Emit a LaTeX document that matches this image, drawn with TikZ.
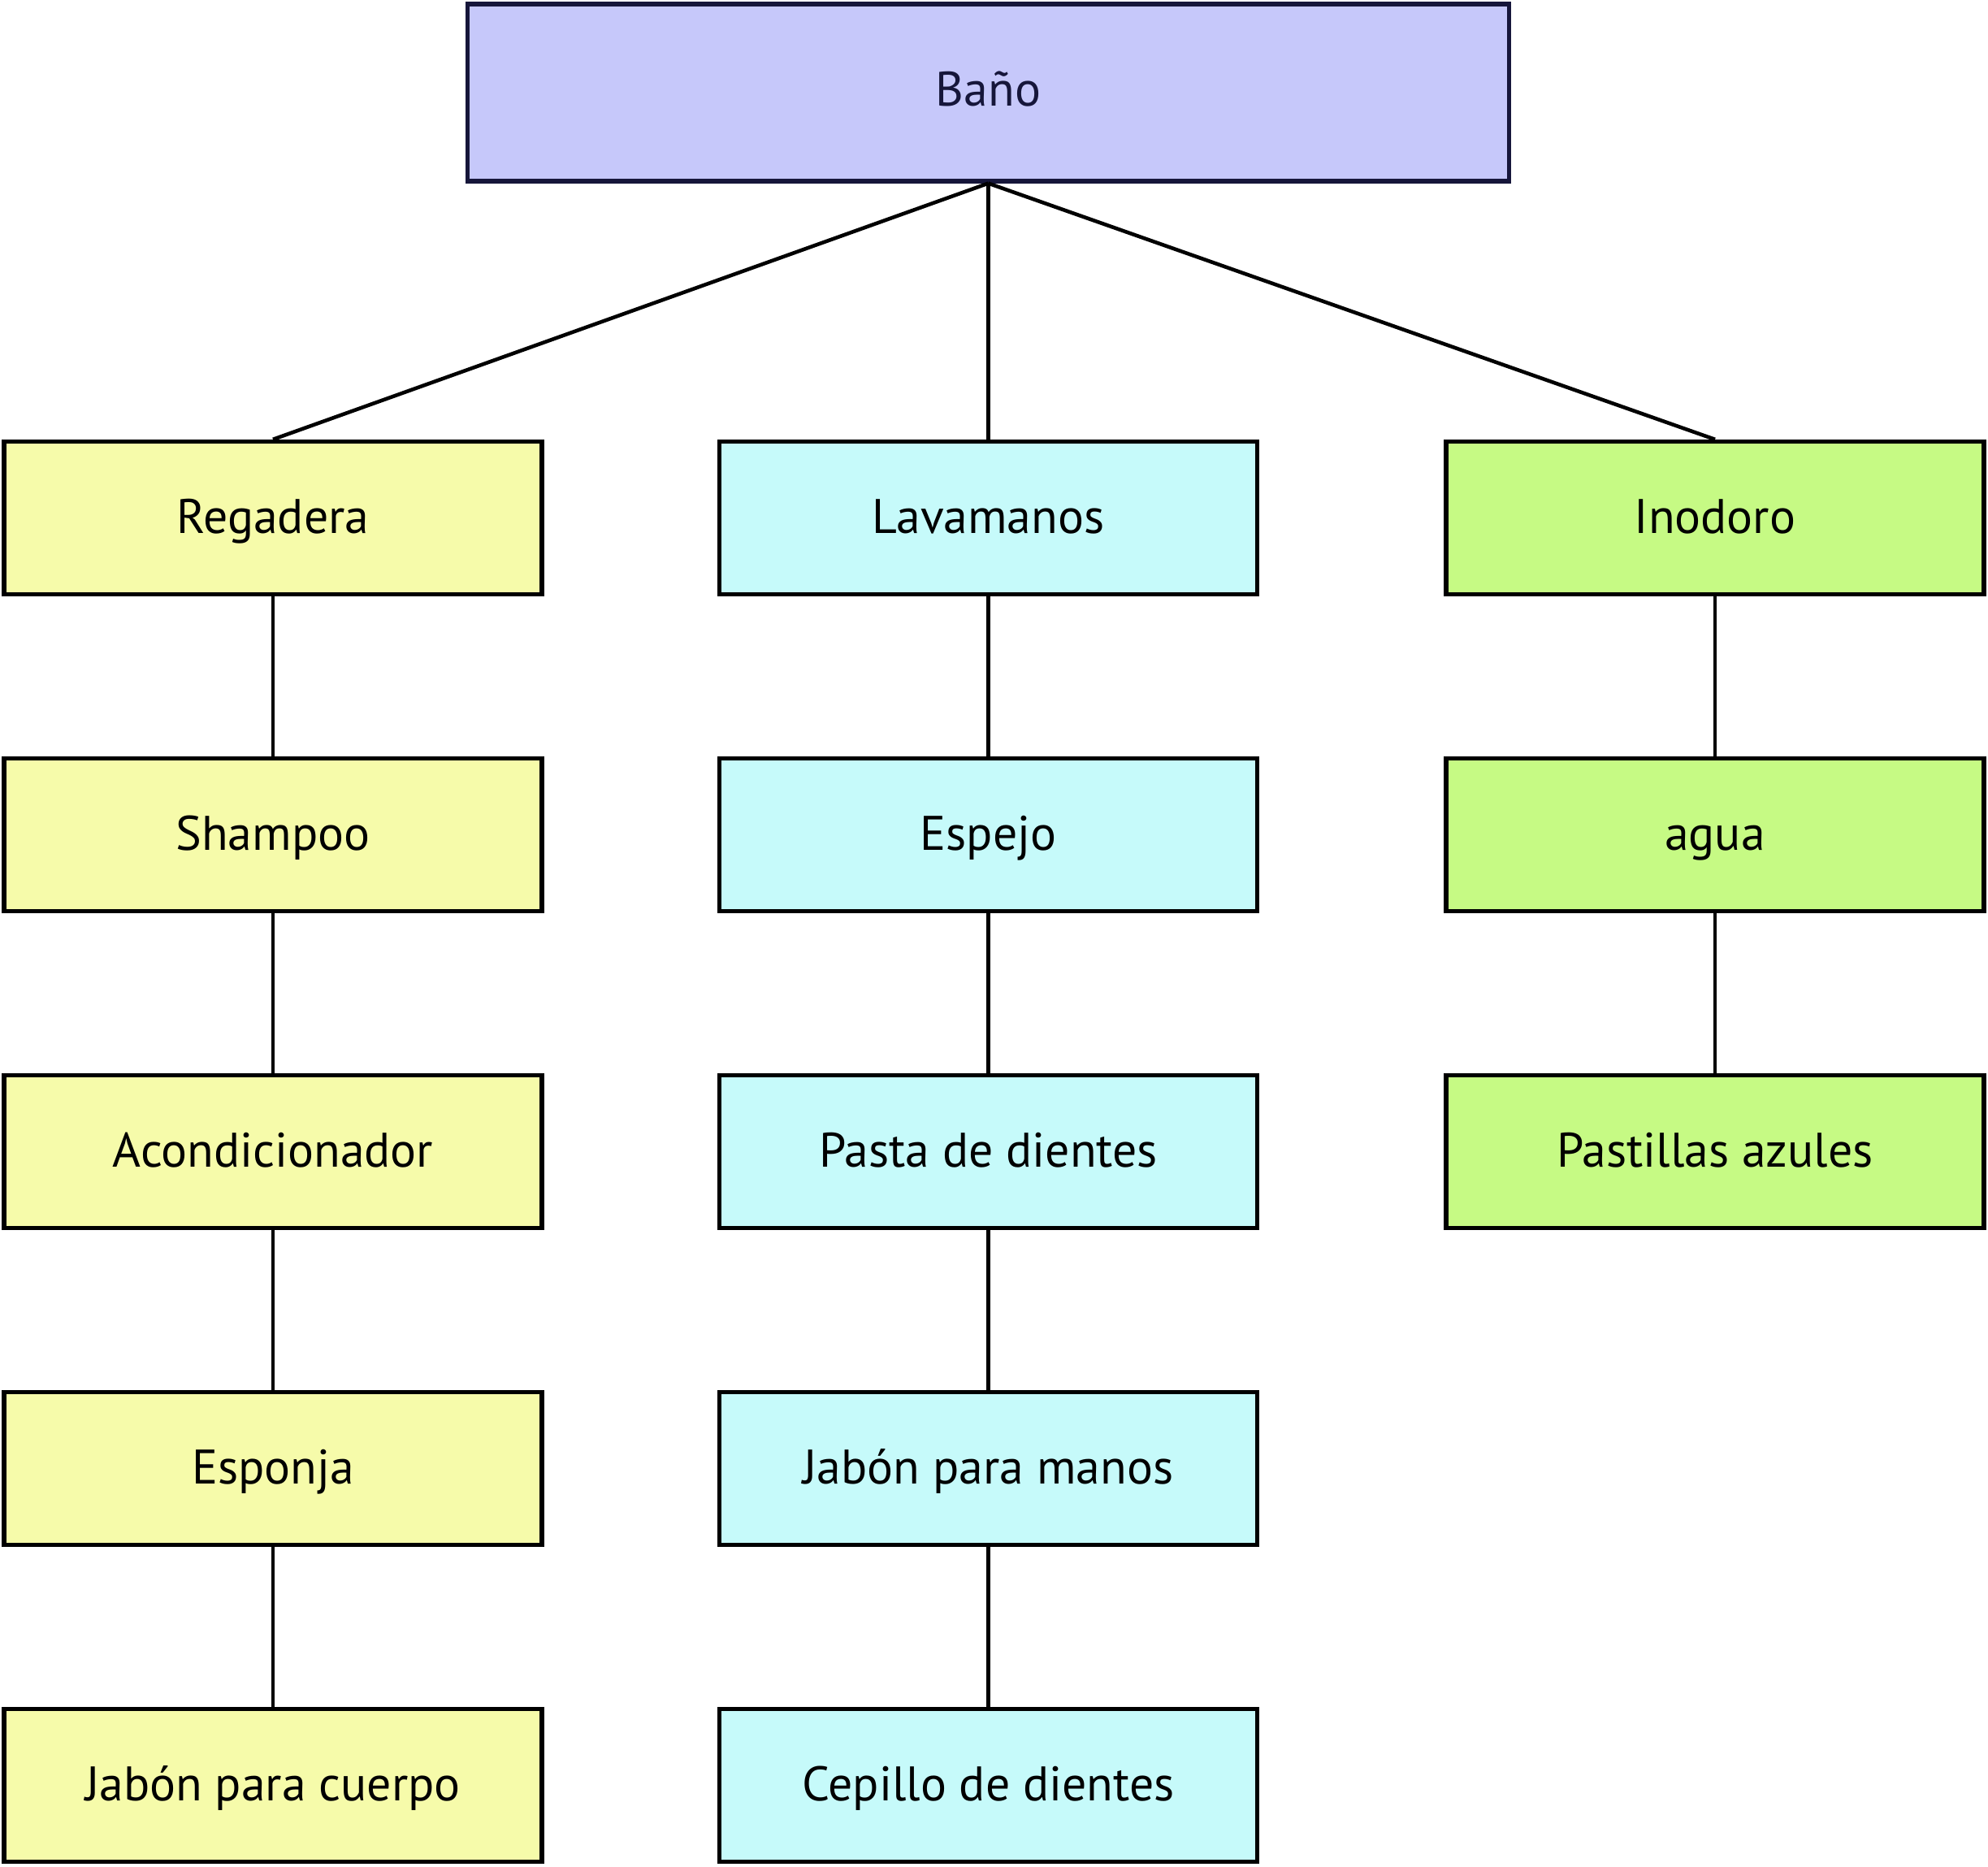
\documentclass[tikz,border=0pt]{standalone}
\usepackage{fontspec}
\setmainfont{PT Sans}
\usetikzlibrary{positioning}

\definecolor{lavanda}{HTML}{C6C8FA}
\definecolor{marino}{HTML}{16163A}
\definecolor{amarillo}{HTML}{F6FBAA}
\definecolor{celeste}{HTML}{C6FAFA}
\definecolor{verde}{HTML}{C6FA84}

\begin{document}
\begin{tikzpicture}[node distance=3.9cm,on grid,line width=1.3pt]
  \tikzstyle{raiz}=[rectangle,line width=1.5pt,draw=marino,fill=lavanda,text=marino,
                    minimum width=12.82cm,minimum height=2.18cm,
                    text height=14pt,text depth=4.5pt,
                    font=\fontsize{17}{20}\selectfont]
  \tikzstyle{caja}=[rectangle,line width=1.5pt,draw=black,
                    minimum width=6.62cm,minimum height=1.88cm,
                    text height=14pt,text depth=3.4pt,
                    font=\fontsize{17}{20}\selectfont]

  \useasboundingbox (0,0) rectangle (24.47,-22.98);

  \node[raiz] (bano) at (12.165,-1.14) {Baño};

  \node[caja,fill=amarillo] (regadera) at (3.36,-6.375) {Regadera};
  \node[caja,fill=celeste] (lavamanos) [right=8.805cm of regadera] {Lavamanos};
  \node[caja,fill=verde] (inodoro) [right=8.945cm of lavamanos] {Inodoro};

  \node[caja,fill=amarillo] (shampoo) [below=of regadera] {Shampoo};
  \node[caja,fill=amarillo] (acond) [below=of shampoo] {Acondicionador};
  \node[caja,fill=amarillo] (esponja) [below=of acond] {Esponja};
  \node[caja,fill=amarillo] (jcuerpo) [below=of esponja] {Jabón para cuerpo};

  \node[caja,fill=celeste] (espejo) [below=of lavamanos] {Espejo};
  \node[caja,fill=celeste] (pasta) [below=of espejo] {Pasta de dientes};
  \node[caja,fill=celeste] (jmanos) [below=of pasta] {Jabón para manos};
  \node[caja,fill=celeste] (cepillo) [below=of jmanos] {Cepillo de dientes};

  \node[caja,fill=verde] (agua) [below=of inodoro] {agua};
  \node[caja,fill=verde] (pastillas) [below=of agua] {Pastillas azules};

  \path (bano.south) edge (regadera.north)
                     edge (lavamanos.north)
                     edge (inodoro.north);

  \path (regadera) edge (shampoo);
  \path (shampoo) edge (acond);
  \path (acond) edge (esponja);
  \path (esponja) edge (jcuerpo);

  \path (lavamanos) edge (espejo);
  \path (espejo) edge (pasta);
  \path (pasta) edge (jmanos);
  \path (jmanos) edge (cepillo);

  \path (inodoro) edge (agua);
  \path (agua) edge (pastillas);
\end{tikzpicture}
\end{document}
